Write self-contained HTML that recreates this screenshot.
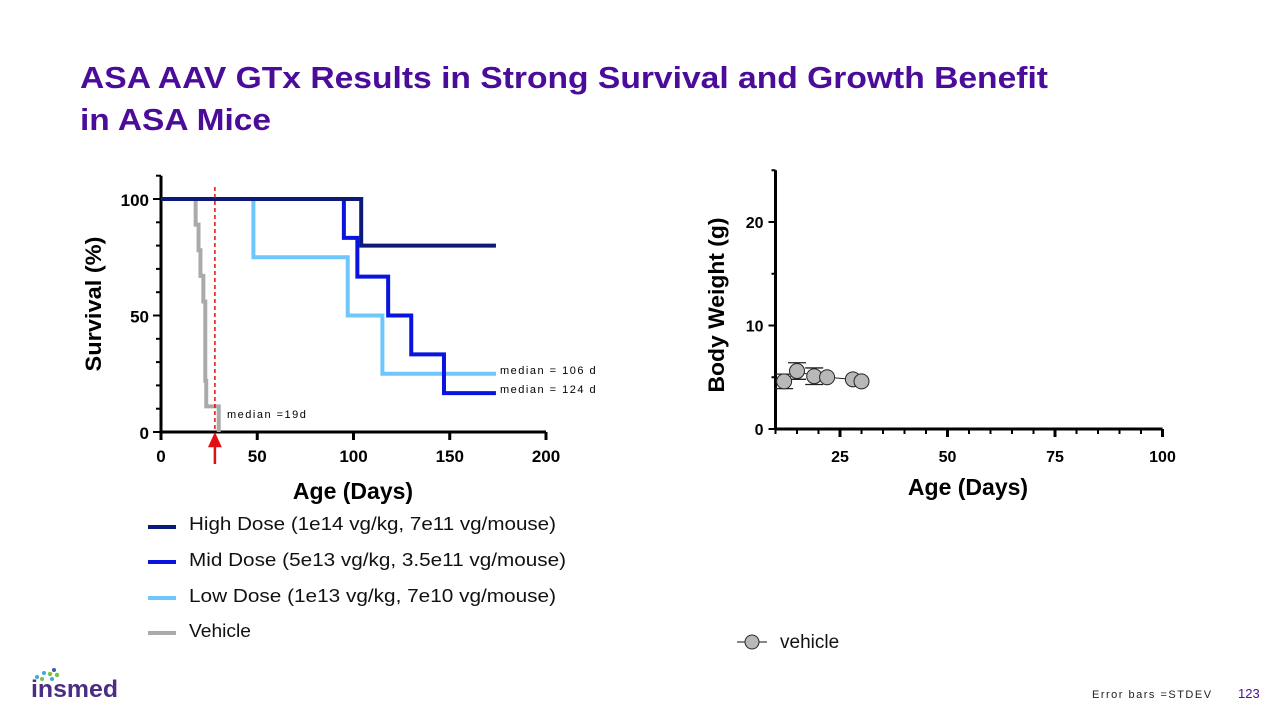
<!DOCTYPE html>
<html><head><meta charset="utf-8">
<style>
html,body{margin:0;padding:0;background:#fff;}
body{width:1280px;height:720px;overflow:hidden;position:relative;font-family:"Liberation Sans",sans-serif;}
svg text{font-family:"Liberation Sans",sans-serif;}
</style></head>
<body>
<svg id="s" width="1280" height="720" viewBox="0 0 1280 720">
<text x="80" y="88" font-size="31" font-weight="bold" fill="#4B0C9A" textLength="968" lengthAdjust="spacingAndGlyphs">ASA AAV GTx Results in Strong Survival and Growth Benefit</text>
<text x="80" y="130" font-size="31" font-weight="bold" fill="#4B0C9A" textLength="191" lengthAdjust="spacingAndGlyphs">in ASA Mice</text>
<g id="left"></g>
<g id="right"></g>
<g font-size="18.5" fill="#111">
 <g><line x1="148" y1="527" x2="176" y2="527" stroke="#0B1A78" stroke-width="4"/><text x="189" y="530" textLength="367" lengthAdjust="spacingAndGlyphs">High Dose (1e14 vg/kg, 7e11 vg/mouse)</text></g>
 <g><line x1="148" y1="562" x2="176" y2="562" stroke="#0A14E0" stroke-width="4"/><text x="189" y="566" textLength="377" lengthAdjust="spacingAndGlyphs">Mid Dose (5e13 vg/kg, 3.5e11 vg/mouse)</text></g>
 <g><line x1="148" y1="598" x2="176" y2="598" stroke="#6EC6FA" stroke-width="4"/><text x="189" y="602" textLength="367" lengthAdjust="spacingAndGlyphs">Low Dose (1e13 vg/kg, 7e10 vg/mouse)</text></g>
 <g><line x1="148" y1="633" x2="176" y2="633" stroke="#AAAAAA" stroke-width="4"/><text x="189" y="637" textLength="62" lengthAdjust="spacingAndGlyphs">Vehicle</text></g>
</g>
<g><line x1="737" y1="642" x2="767" y2="642" stroke="#111" stroke-width="1"/><circle cx="752" cy="642" r="7" fill="#B8B8B8" stroke="#222"/><text x="780" y="648" font-size="19" fill="#111">vehicle</text></g>
<g>
 <circle cx="37" cy="677" r="2" fill="#3FA7E0"/><circle cx="44" cy="673" r="2" fill="#3FA7E0"/><circle cx="50" cy="674" r="2.2" fill="#7BC144"/><circle cx="54" cy="670" r="2" fill="#3B5BA9"/><circle cx="57" cy="675" r="2.2" fill="#7BC144"/><circle cx="42" cy="679" r="2" fill="#7BC144"/><circle cx="52" cy="679" r="2" fill="#3FA7E0"/>
 <text x="31" y="697" font-size="24" font-weight="bold" fill="#4B2E83" textLength="87" lengthAdjust="spacingAndGlyphs">insmed</text>
</g>
<text x="1092" y="698" font-size="11" letter-spacing="1.5" fill="#222">Error bars =STDEV</text>
<text x="1238" y="698" font-size="13" fill="#4B0C9A">123</text>
</svg>
<script>
const survHighT=[0,104,174], survHighV=[100,80,80];
const survMidT=[0,95,102,118,130,147,174], survMidV=[100,83.3,66.7,50,33.3,16.7,16.7];
const survLowT=[0,48,97,115,174], survLowV=[100,75,50,25,25];
const survVehT=[0,18,19.5,20.5,22,23,23.5,30], survVehV=[100,89,78,67,56,22,11,0];
const survXTicks=[0,50,100,150,200], survYTicks=[0,50,100];
const wtDays=[12,15,19,22,28,30], wtMeans=[4.6,5.6,5.1,5.0,4.8,4.6], wtSd=[0.7,0.8,0.8,0,0,0];
const wtXTicks=[25,50,75,100], wtYTicks=[0,10,20];
const NS='http://www.w3.org/2000/svg';
function mk(p,t,a,txt){const e=document.createElementNS(NS,t);for(const k in a)e.setAttribute(k,a[k]);if(txt!=null)e.textContent=txt;p.appendChild(e);return e;}
const L=document.getElementById('left');
const lx=d=>161+d*1.925, ly=v=>432-v*2.33;
mk(L,'line',{x1:lx(0),y1:ly(0),x2:lx(200),y2:ly(0),stroke:'#000','stroke-width':3,});
mk(L,'line',{x1:lx(0),y1:ly(0)+1,x2:lx(0),y2:ly(110),stroke:'#000','stroke-width':3,});
for(let v=0;v<=110;v+=10){const m=v%50===0;const t=mk(L,'line',{x1:lx(0)-(m?8:5),y1:ly(v),x2:lx(0),y2:ly(v),stroke:'#000','stroke-width':2});}
survYTicks.forEach(v=>{const t=mk(L,'text',{x:lx(0)-12,y:ly(v)+7,'text-anchor':'end','font-size':17,'font-weight':'bold'},String(v));});
survXTicks.forEach(d=>{const k=mk(L,'line',{x1:lx(d),y1:ly(0),x2:lx(d),y2:ly(0)+8,stroke:'#000','stroke-width':3});
const t=mk(L,'text',{x:lx(d),y:ly(0)+30,'text-anchor':'middle','font-size':17,'font-weight':'bold'},String(d));});
mk(L,'text',{x:353,y:499,'text-anchor':'middle','font-size':23,'font-weight':'bold',},'Age (Days)');
mk(L,'text',{x:101,y:304,'text-anchor':'middle','font-size':22,'font-weight':'bold',textLength:135,lengthAdjust:'spacingAndGlyphs',transform:'rotate(-90 101 304)',},'Survival (%)');
function step(T,V,col,name){let d='M'+lx(T[0])+','+ly(V[0]);for(let i=1;i<T.length;i++){d+=' H'+lx(T[i])+' V'+ly(V[i]);}const p=mk(L,'path',{d:d,fill:'none',stroke:col,'stroke-width':4});}
step(survVehT,survVehV,'#AAAAAA','vehicle-curve');
step(survLowT,survLowV,'#6EC6FA','low-dose-curve');
step(survMidT,survMidV,'#0A14E0','mid-dose-curve');
step(survHighT,survHighV,'#0B1A78','high-dose-curve');
mk(L,'line',{x1:lx(28),y1:187,x2:lx(28),y2:ly(0),stroke:'#E01010','stroke-width':1.5,'stroke-dasharray':'4,3',});
mk(L,'path',{d:`M${lx(28)},464 V445 M${lx(28)-5},446 L${lx(28)},435 L${lx(28)+5},446 Z`,stroke:'#E01010','stroke-width':2.5,fill:'#E01010',});
mk(L,'text',{x:227,y:418,'font-size':11,'letter-spacing':1.5,},'median =19d');
mk(L,'text',{x:500,y:374,'font-size':11,'letter-spacing':1.5,},'median = 106 d');
mk(L,'text',{x:500,y:393,'font-size':11,'letter-spacing':1.5,},'median = 124 d');
const R=document.getElementById('right');
const rx=d=>775.5+(d-10)*4.3, ry=v=>429-v*10.35;
mk(R,'line',{x1:rx(10),y1:ry(0),x2:rx(100),y2:ry(0),stroke:'#000','stroke-width':3,});
mk(R,'line',{x1:rx(10),y1:ry(0)+1,x2:rx(10),y2:ry(25),stroke:'#000','stroke-width':3,});
for(let d=10;d<=100;d+=5){const m=d%25===0;const t=mk(R,'line',{x1:rx(d),y1:ry(0),x2:rx(d),y2:ry(0)+(m?8:5),stroke:'#000','stroke-width':m?3:2});}
for(let v=0;v<=25;v+=5){const m=v%10===0;const t=mk(R,'line',{x1:rx(10)-(m?7:4),y1:ry(v),x2:rx(10),y2:ry(v),stroke:'#000','stroke-width':2});}
wtYTicks.forEach(v=>{const t=mk(R,'text',{x:rx(10)-12,y:ry(v)+6,'text-anchor':'end','font-size':16,'font-weight':'bold'},String(v));});
wtXTicks.forEach(d=>{const t=mk(R,'text',{x:rx(d),y:ry(0)+33,'text-anchor':'middle','font-size':16,'font-weight':'bold'},String(d));});
mk(R,'text',{x:968,y:495,'text-anchor':'middle','font-size':23,'font-weight':'bold',},'Age (Days)');
mk(R,'text',{x:724,y:305,'text-anchor':'middle','font-size':22,'font-weight':'bold',textLength:175,lengthAdjust:'spacingAndGlyphs',transform:'rotate(-90 724 305)',},'Body Weight  (g)');
let pd='';wtDays.forEach((d,i)=>{pd+=(i?'L':'M')+rx(d)+','+ry(wtMeans[i]);});
mk(R,'path',{d:pd,fill:'none',stroke:'#222','stroke-width':1,});
wtDays.forEach((d,i)=>{if(wtSd[i]>0){const x=rx(d),a=ry(wtMeans[i]+wtSd[i]),b=ry(wtMeans[i]-wtSd[i]);const e=mk(R,'path',{d:`M${x},${a}V${b}M${x-9},${a}H${x+9}M${x-9},${b}H${x+9}`,stroke:'#222','stroke-width':1.3,fill:'none'});}});
wtDays.forEach((d,i)=>{const c=mk(R,'circle',{cx:rx(d),cy:ry(wtMeans[i]),r:7.5,fill:'#B8B8B8',stroke:'#222','stroke-width':1});});
</script>
</body></html>
